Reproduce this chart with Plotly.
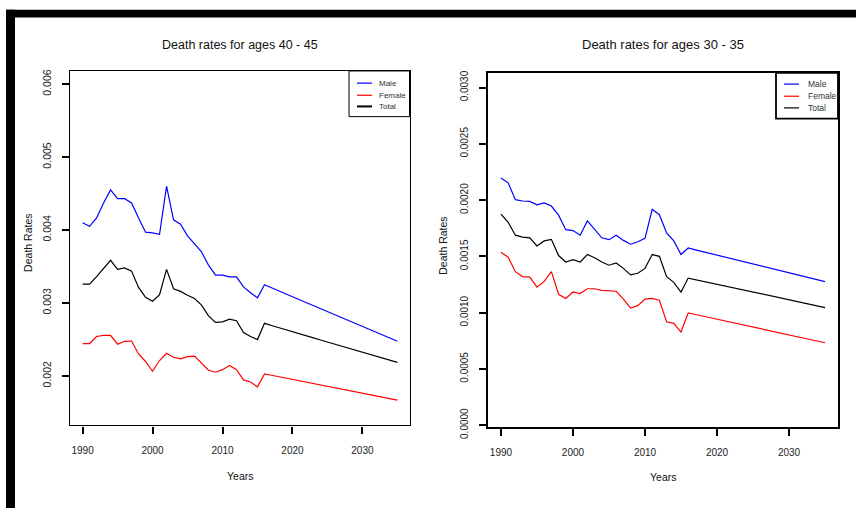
import plotly.graph_objects as go

# Years covered by the observed data and the forecast
years = list(range(1990, 2036))

# Death rates, ages 40 - 45
male_40_45 = [
    0.00410, 0.00405, 0.004165, 0.00437, 0.00455, 0.00443, 0.00443, 0.00437,
    0.004165, 0.00397, 0.00396, 0.00394, 0.00460, 0.00414, 0.00408, 0.00392,
    0.00381, 0.00370, 0.003517, 0.00338, 0.00338, 0.003356, 0.003356, 0.00322,
    0.00314, 0.00307,
    0.003250, 0.003205, 0.003165, 0.003125, 0.003085, 0.003045, 0.003005,
    0.002965, 0.002925, 0.002885, 0.002845, 0.002805, 0.002765, 0.002725,
    0.002685, 0.002645, 0.002605, 0.002565, 0.002520, 0.002475,
]
female_40_45 = [
    0.002443, 0.002443, 0.00254, 0.002555, 0.002555, 0.002434, 0.002474, 0.002478,
    0.00230, 0.002197, 0.002063, 0.00221, 0.002309, 0.002255, 0.002233, 0.002264,
    0.00227, 0.002174, 0.002077, 0.00205, 0.002085, 0.002143, 0.002085, 0.001945,
    0.001915, 0.00185,
    0.002027, 0.002008, 0.001989, 0.001970, 0.001951, 0.001932, 0.001913,
    0.001894, 0.001875, 0.001856, 0.001838, 0.001820, 0.001802, 0.001784,
    0.001766, 0.001746, 0.001726, 0.001706, 0.001687, 0.001668,
]
total_40_45 = [
    0.003258, 0.003258, 0.00336, 0.003472, 0.003584, 0.00346, 0.00348, 0.003436,
    0.003212, 0.003078, 0.003024, 0.003114, 0.00346, 0.003195, 0.003158, 0.003105,
    0.00306, 0.00297, 0.002823, 0.002734, 0.00274, 0.002778, 0.002756, 0.002595,
    0.00254, 0.002497,
    0.002720, 0.002690, 0.002660, 0.002632, 0.002604, 0.002576, 0.002548,
    0.002520, 0.002492, 0.002464, 0.002436, 0.002408, 0.002380, 0.002352,
    0.002324, 0.002296, 0.002268, 0.002240, 0.002212, 0.002184,
]

# Death rates, ages 30 - 35
male_30_35 = [
    0.002196, 0.002153, 0.002004, 0.001992, 0.001988, 0.001958, 0.001975, 0.001947,
    0.001866, 0.001737, 0.001729, 0.001688, 0.001815, 0.001737, 0.001665, 0.001648,
    0.001688, 0.001642, 0.001608, 0.00163, 0.00166, 0.001918, 0.00187, 0.001708,
    0.001637, 0.001516,
    0.001574, 0.001558, 0.001542, 0.001526, 0.001510, 0.001494, 0.001478,
    0.001462, 0.001446, 0.001430, 0.001414, 0.001398, 0.001382, 0.001366,
    0.001350, 0.001335, 0.001320, 0.001305, 0.001290, 0.001275,
]
female_30_35 = [
    0.001536, 0.001493, 0.001364, 0.00132, 0.001316, 0.001226, 0.001277, 0.001364,
    0.001163, 0.001126, 0.001183, 0.001169, 0.001212, 0.001212, 0.001197, 0.001192,
    0.00119, 0.00112, 0.00104, 0.001062, 0.00112, 0.001126, 0.00111, 0.000919,
    0.000904, 0.000827,
    0.000997, 0.000983, 0.000969, 0.000955, 0.000941, 0.000927, 0.000913,
    0.000899, 0.000885, 0.000871, 0.000857, 0.000843, 0.000829, 0.000815,
    0.000801, 0.000787, 0.000773, 0.000759, 0.000746, 0.000732,
]
total_30_35 = [
    0.001875, 0.001803, 0.001688, 0.001671, 0.001665, 0.001593, 0.001637, 0.001651,
    0.001507, 0.00145, 0.00147, 0.00145, 0.001516, 0.001487, 0.00145, 0.001421,
    0.001441, 0.001393, 0.001335, 0.00135, 0.001393, 0.001516, 0.001500, 0.00132,
    0.001269, 0.001183,
    0.001307, 0.001293, 0.001279, 0.001265, 0.001251, 0.001237, 0.001223,
    0.001209, 0.001195, 0.001181, 0.001167, 0.001153, 0.001140, 0.001127,
    0.001114, 0.001100, 0.001086, 0.001072, 0.001058, 0.001045,
]

series_names = ["Male", "Female", "Total"]
series_colors = ["#0000ff", "#ff0000", "#000000"]

W, H = 856, 520
FONT = "Liberation Sans, Arial, sans-serif"


def px_x(x):
    return x / W


def px_y(y):
    return 1 - y / H


fig = go.Figure()

panels = [
    dict(xa="x", ya="y", data=[male_40_45, female_40_45, total_40_45]),
    dict(xa="x2", ya="y2", data=[male_30_35, female_30_35, total_30_35]),
]

for p in panels:
    for name, color, vals in zip(series_names, series_colors, p["data"]):
        fig.add_trace(go.Scatter(
            x=years, y=vals, mode="lines", name=name,
            line=dict(color=color, width=1.2),
            xaxis=p["xa"], yaxis=p["ya"], showlegend=False,
        ))

axis_common = dict(
    showgrid=False, zeroline=False, showline=True, mirror=True,
    linecolor="black", ticks="outside", ticklen=7, tickcolor="black",
)

fig.update_layout(
    width=W, height=H,
    margin=dict(l=0, r=0, t=0, b=0),
    paper_bgcolor="white", plot_bgcolor="white",
    font=dict(family=FONT, color="#111"),
    showlegend=False,
    xaxis=dict(
        domain=[px_x(70), px_x(410)], range=[1988.2, 2036.8],
        tickvals=[1990, 2000, 2010, 2020, 2030], linewidth=1.3, tickwidth=1.5,
        tickfont=dict(size=10, family=FONT, color="#222"), anchor="y",
        ticklabelstandoff=8, **axis_common,
    ),
    yaxis=dict(
        domain=[px_y(435), px_y(70)], range=[0.00132, 0.00618],
        tickvals=[0.002, 0.003, 0.004, 0.005, 0.006], tickformat=".3f",
        tickangle=-90, linewidth=1.3, tickwidth=2,
        tickfont=dict(size=10.5, family=FONT, color="#222"), anchor="x",
        ticklabelstandoff=7, **axis_common,
    ),
    xaxis2=dict(
        domain=[px_x(488), px_x(838)], range=[1988.2, 2036.8],
        tickvals=[1990, 2000, 2010, 2020, 2030], linewidth=2.2, tickwidth=1.5,
        tickfont=dict(size=10, family=FONT, color="#222"), anchor="y2",
        ticklabelstandoff=8, **axis_common,
    ),
    yaxis2=dict(
        domain=[px_y(437), px_y(72)], range=[-0.00002, 0.00313],
        tickvals=[0, 0.0005, 0.001, 0.0015, 0.002, 0.0025, 0.003],
        tickformat=".4f", tickangle=-90, linewidth=2.2, tickwidth=1.5,
        tickfont=dict(size=10, family=FONT, color="#222"), anchor="x2",
        ticklabelstandoff=7, **axis_common,
    ),
)

# Legend boxes in the top-right corner of each panel
legends = [
    dict(box=(349, 409.5, 70, 117), border=1, keys=(357, 372), text_x=377,
         rows=(82.5, 95, 106.5), widths=(1.2, 1.2, 2), size=8),
    dict(box=(776, 838, 72, 119), border=1.8, keys=(784, 799), text_x=806,
         rows=(83.5, 96, 108), widths=(1.2, 1.2, 1.2), size=8.5),
]
for lg in legends:
    x0, x1, y0, y1 = lg["box"]
    fig.add_shape(type="rect", xref="paper", yref="paper",
                  x0=px_x(x0), x1=px_x(x1), y0=px_y(y1), y1=px_y(y0),
                  fillcolor="white", line=dict(color="black", width=lg["border"]))
    for name, color, row, lw in zip(series_names, series_colors,
                                    lg["rows"], lg["widths"]):
        fig.add_shape(type="line", xref="paper", yref="paper",
                      x0=px_x(lg["keys"][0]), x1=px_x(lg["keys"][1]),
                      y0=px_y(row), y1=px_y(row),
                      line=dict(color=color, width=lw))
        fig.add_annotation(
            text=name, x=px_x(lg["text_x"]), y=px_y(row),
            xref="paper", yref="paper", showarrow=False,
            xanchor="left", yanchor="middle",
            font=dict(size=lg["size"], family=FONT, color="#333"),
        )

# Panel titles and axis titles
texts = [
    ("Death rates for ages 40 - 45", 240, 43, 12.5, 0),
    ("Death rates for ages 30 - 35", 663, 43, 13, 0),
    ("Years", 240, 487, 10.5, 0),
    ("Years", 663, 488, 10.5, 0),
    ("Death Rates", 28, 247, 10.5, -90),
    ("Death Rates", 443, 250, 10.5, -90),
]
for txt, x, y, size, ang in texts:
    fig.add_annotation(
        text=txt, x=px_x(x), y=px_y(y), xref="paper", yref="paper",
        showarrow=False, xanchor="center", yanchor="middle", textangle=ang,
        font=dict(size=size, family=FONT, color="#111"),
    )

# Heavy black frame along the top and left edges of the page
fig.add_shape(type="rect", xref="paper", yref="paper",
              x0=px_x(6), x1=1.0, y0=px_y(15), y1=px_y(7),
              fillcolor="black", line=dict(width=0), layer="above")
fig.add_shape(type="rect", xref="paper", yref="paper",
              x0=px_x(6), x1=px_x(15), y0=0.0, y1=px_y(7),
              fillcolor="black", line=dict(width=0), layer="above")

fig.write_html("out.html")
